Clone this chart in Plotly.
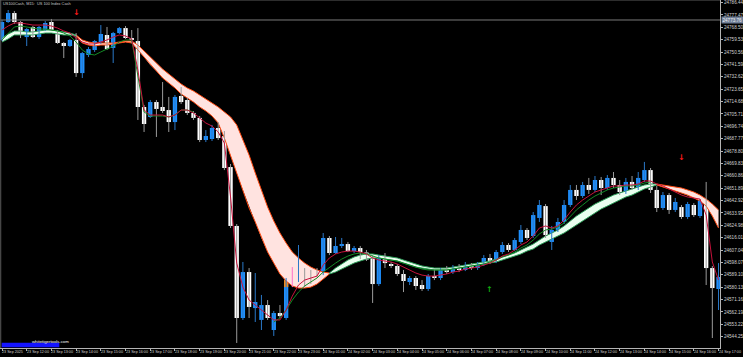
import plotly.graph_objects as go
import pandas as pd

# ---------------- data ----------------
bar_times = ([t.strftime("%Y-%m-%d %H:%M") for t in pd.date_range("2025-09-23 11:00", "2025-09-23 23:45", freq="15min")]
             + [t.strftime("%Y-%m-%d %H:%M") for t in pd.date_range("2025-09-24 01:00", "2025-09-24 17:00", freq="15min")])

opens = [24759.3, 24772.3, 24778.8, 24772.3, 24761.4, 24768.7, 24761.4, 24766.5, 24772.3, 24765.1,
         24757.1, 24754.9, 24759.3, 24735.3, 24748.4, 24752.0, 24757.8, 24762.9, 24753.5, 24764.3,
         24767.9, 24760.7, 24758.5, 24710.7, 24703.5, 24714.3, 24710.7, 24708.5, 24699.8, 24718.7,
         24715.8, 24706.4, 24702.8, 24686.8, 24687.5, 24695.5, 24689.7, 24667.2, 24624.5, 24557.8,
         24591.1, 24565.0, 24556.4, 24567.2, 24549.1, 24561.4, 24557.8, 24583.9, 24585.3, 24590.4,
         24589.7, 24590.4, 24591.8, 24615.8, 24604.9, 24610.0, 24611.4, 24606.3, 24608.5, 24604.9,
         24602.0, 24582.4, 24601.3, 24596.9, 24595.5, 24589.7, 24583.9, 24586.8, 24581.7, 24578.8,
         24588.2, 24586.8, 24592.6, 24591.1, 24594.0, 24592.6, 24596.2, 24594.0, 24596.2, 24601.3,
         24598.4, 24605.6, 24610.7, 24607.1, 24612.9, 24621.6, 24617.2, 24630.3, 24638.9, 24612.9,
         24621.6, 24627.4, 24639.7, 24650.6, 24646.2, 24654.2, 24650.6, 24657.8, 24652.0, 24659.3,
         24654.2, 24649.1, 24656.4, 24652.0, 24657.8, 24665.0, 24650.6, 24637.5, 24646.9, 24636.1,
         24638.2, 24631.0, 24639.7, 24631.7, 24643.3, 24594.0, 24578.8]
highs = [24773.8, 24781.0, 24780.3, 24773.0, 24767.9, 24769.4, 24769.4, 24773.0, 24774.5, 24766.5,
         24757.8, 24760.0, 24764.3, 24750.6, 24754.2, 24759.3, 24770.1, 24768.7, 24765.1, 24768.7,
         24769.4, 24766.5, 24767.9, 24712.2, 24715.8, 24715.8, 24728.8, 24718.0, 24719.4, 24725.2,
         24717.3, 24707.8, 24704.2, 24694.0, 24697.7, 24699.8, 24693.3, 24669.4, 24625.9, 24598.4,
         24594.0, 24590.4, 24574.5, 24570.8, 24562.9, 24567.2, 24586.8, 24594.7, 24610.7, 24594.0,
         24592.6, 24594.0, 24619.4, 24617.2, 24616.5, 24615.8, 24612.9, 24610.0, 24610.0, 24607.1,
         24603.4, 24603.4, 24604.9, 24598.4, 24596.9, 24592.6, 24588.2, 24588.2, 24585.3, 24589.7,
         24592.6, 24594.0, 24595.5, 24596.2, 24596.9, 24598.4, 24597.6, 24598.4, 24603.4, 24604.2,
         24607.1, 24612.9, 24612.1, 24615.8, 24625.2, 24623.0, 24634.6, 24643.3, 24640.4, 24624.5,
         24630.3, 24643.3, 24654.2, 24654.2, 24656.4, 24659.3, 24660.7, 24660.0, 24661.4, 24663.6,
         24657.8, 24659.3, 24660.7, 24663.6, 24670.9, 24666.5, 24653.5, 24649.1, 24648.4, 24644.8,
         24639.7, 24641.9, 24641.1, 24644.0, 24656.4, 24595.5, 24597.6]
lows = [24758.5, 24771.6, 24770.9, 24760.7, 24754.9, 24760.7, 24760.0, 24765.8, 24765.8, 24756.4,
        24746.2, 24754.2, 24732.5, 24731.7, 24746.9, 24750.6, 24756.4, 24752.0, 24742.6, 24763.6,
        24760.0, 24757.1, 24701.3, 24692.6, 24702.8, 24689.0, 24706.4, 24692.6, 24694.0, 24712.9,
        24704.9, 24701.3, 24685.3, 24685.3, 24686.1, 24686.8, 24665.0, 24623.0, 24539.7, 24556.4,
        24557.8, 24554.9, 24549.1, 24556.4, 24544.8, 24557.8, 24556.4, 24580.2, 24583.9, 24580.2,
        24582.4, 24587.5, 24588.9, 24603.4, 24604.2, 24608.5, 24605.6, 24604.9, 24600.5, 24599.1,
        24568.7, 24581.0, 24594.0, 24594.0, 24588.2, 24576.6, 24581.7, 24578.1, 24577.4, 24577.4,
        24585.3, 24585.3, 24589.7, 24589.7, 24591.1, 24591.8, 24592.6, 24592.6, 24595.5, 24596.9,
        24597.6, 24604.2, 24605.6, 24606.3, 24611.4, 24614.3, 24615.8, 24627.4, 24615.8, 24607.1,
        24620.1, 24625.9, 24638.2, 24643.3, 24644.8, 24647.7, 24649.1, 24646.9, 24650.6, 24652.0,
        24646.9, 24647.7, 24650.6, 24650.6, 24656.4, 24648.4, 24634.6, 24636.1, 24633.2, 24634.6,
        24629.5, 24629.5, 24631.0, 24630.3, 24581.7, 24543.3, 24563.6]
closes = [24772.3, 24778.8, 24772.3, 24762.9, 24767.2, 24761.4, 24768.7, 24771.6, 24766.5, 24757.1,
          24754.9, 24759.3, 24735.3, 24749.8, 24752.7, 24758.5, 24763.6, 24752.7, 24764.3, 24767.9,
          24760.7, 24759.3, 24710.7, 24698.4, 24714.3, 24709.3, 24707.8, 24699.8, 24718.0, 24714.3,
          24706.4, 24702.8, 24686.8, 24689.7, 24695.5, 24688.2, 24666.5, 24624.5, 24557.8, 24591.1,
          24565.8, 24569.4, 24567.2, 24557.8, 24561.4, 24559.2, 24585.3, 24583.1, 24590.4, 24583.9,
          24583.9, 24589.7, 24615.8, 24604.9, 24610.0, 24611.4, 24606.3, 24608.5, 24605.6, 24600.5,
          24582.4, 24602.0, 24597.6, 24595.5, 24589.7, 24584.6, 24586.8, 24581.0, 24578.8, 24588.2,
          24586.8, 24592.6, 24591.1, 24594.0, 24592.6, 24596.2, 24594.0, 24596.9, 24601.3, 24598.4,
          24605.6, 24610.7, 24607.1, 24614.3, 24621.6, 24615.8, 24632.4, 24639.7, 24617.9, 24621.6,
          24627.4, 24639.7, 24650.6, 24646.2, 24654.2, 24650.6, 24657.8, 24652.0, 24659.3, 24654.2,
          24649.1, 24656.4, 24652.0, 24659.3, 24665.0, 24650.6, 24637.5, 24646.9, 24636.1, 24641.9,
          24631.0, 24640.4, 24632.4, 24642.6, 24594.0, 24579.5, 24587.5]

# fast line (crimson)
ma_fast = [24766.5, 24769.4, 24771.6, 24771.6, 24770.9, 24770.1, 24770.1, 24770.1, 24769.4, 24767.9,
           24765.8, 24764.3, 24760.7, 24757.8, 24756.4, 24756.4, 24757.8, 24759.3, 24761.4, 24762.9,
           24762.2, 24760.0, 24737.5, 24708.5, 24704.9, 24704.9, 24704.9, 24703.5, 24704.9, 24708.5,
           24708.5, 24706.4, 24702.8, 24699.1, 24696.9, 24692.6, 24684.6, 24645.5, 24597.6, 24580.2,
           24570.8, 24567.2, 24563.6, 24560.0, 24556.4, 24556.4, 24563.6, 24573.7, 24581.7, 24585.3,
           24586.8, 24588.2, 24596.2, 24601.3, 24604.2, 24605.6, 24606.3, 24606.3, 24605.6, 24604.2,
           24601.3, 24599.8, 24599.1, 24598.4, 24596.9, 24594.7, 24592.6, 24590.4, 24588.9, 24588.2,
           24588.2, 24588.9, 24589.7, 24591.1, 24591.8, 24593.3, 24594.0, 24594.7, 24596.2, 24597.6,
           24599.8, 24602.7, 24604.2, 24607.1, 24610.7, 24612.9, 24617.2, 24623.0, 24624.5, 24623.0,
           24624.5, 24628.8, 24634.6, 24639.7, 24643.3, 24646.2, 24649.1, 24650.6, 24652.0, 24653.5,
           24653.5, 24654.2, 24654.2, 24654.9, 24657.1, 24657.1, 24654.9, 24653.5, 24651.3, 24649.1,
           24646.9, 24645.5, 24644.8, 24644.0, 24632.4, 24598.4, 24585.3]
# medium line (dark green), None where not drawn
ma_mid = [24759.3, 24764.3, 24768.7, 24769.4, 24768.7, 24767.9, 24767.2, 24767.2, 24766.5, 24765.8,
          24764.3, 24762.2, 24757.8, 24752.0, 24749.1, 24748.4, 24750.6, 24752.7, 24754.9, 24757.8,
          24759.3, 24759.3, 24733.9, 24707.1, 24704.2, 24704.2, 24704.2, 24703.5, 24704.9, 24708.5,
          24708.5, 24707.1, None, None, None, None, None, None, None, None,
          None, None, None, None, 24554.9, 24557.8, 24563.6, 24570.8, 24576.6, 24581.0,
          24583.9, 24586.8, 24591.1, 24594.7, 24597.6, 24600.5, 24602.7, 24604.2, 24604.9, 24604.2,
          24602.7, 24601.3, 24600.5, 24599.8, 24599.1, 24597.6, 24596.2, 24594.7, 24593.3, 24592.6,
          24592.6, 24592.6, 24592.6, 24593.3, 24594.0, 24594.7, 24595.5, 24596.2, 24596.9, 24598.4,
          24599.8, 24602.0, 24603.4, 24605.6, 24608.5, 24610.7, 24614.3, 24618.7, 24621.6, 24622.3,
          24623.7, 24626.6, 24631.7, 24636.1, 24639.7, 24643.3, 24646.2, 24648.4, 24650.6, 24652.0,
          24652.7, 24653.5, 24653.5, 24654.2, 24655.6, 24656.4, None, None, None, None,
          None, None, None, None, None, None, None]
# cloud edges
cloud_a = [24760.7, 24763.6, 24765.8, 24765.8, 24765.1, 24765.1, 24765.8, 24766.5, 24766.5, 24765.8,
           24765.1, 24764.3, 24762.9, 24759.3, 24757.8, 24757.1, 24757.1, 24757.1, 24757.1, 24757.8,
           24758.5, 24758.5, 24755.6, 24751.3, 24746.9, 24742.6, 24738.2, 24734.6, 24731.0, 24727.4,
           24724.5, 24722.3, 24719.4, 24716.5, 24713.6, 24710.7, 24707.1, 24703.5, 24697.7, 24686.8,
           24675.9, 24662.9, 24650.6, 24638.2, 24628.1, 24619.4, 24612.1, 24605.6, 24601.3, 24597.6,
           24594.7, 24592.6, 24591.1, 24590.4, 24594.0, 24596.9, 24599.8, 24602.0, 24603.4, 24604.2,
           24604.2, 24603.4, 24602.7, 24602.0, 24601.3, 24599.8, 24598.4, 24596.9, 24595.5, 24594.7,
           24594.0, 24594.0, 24594.0, 24594.7, 24595.5, 24596.2, 24596.9, 24597.6, 24598.4, 24599.1,
           24600.5, 24602.0, 24603.4, 24604.9, 24607.1, 24609.2, 24611.4, 24614.3, 24617.2, 24619.4,
           24621.6, 24624.5, 24628.1, 24631.7, 24634.6, 24637.5, 24640.4, 24642.6, 24644.8, 24646.9,
           24648.4, 24649.8, 24651.3, 24652.7, 24654.2, 24654.9, 24654.9, 24654.2, 24653.5, 24652.7,
           24652.0, 24650.6, 24649.1, 24646.9, 24644.0, 24640.4, 24636.1]
cloud_b = [24757.8, 24760.0, 24762.9, 24762.9, 24762.9, 24762.9, 24763.6, 24764.3, 24764.3, 24763.6,
           24762.9, 24762.9, 24762.2, 24757.1, 24755.6, 24754.9, 24755.6, 24755.6, 24756.4, 24757.1,
           24757.8, 24757.1, 24752.0, 24746.9, 24741.1, 24736.8, 24731.7, 24728.1, 24724.5, 24720.1,
           24717.3, 24714.3, 24710.7, 24707.8, 24704.2, 24699.1, 24688.2, 24675.9, 24662.9, 24650.6,
           24637.5, 24627.4, 24615.8, 24605.6, 24597.6, 24589.7, 24584.6, 24581.0, 24579.5, 24579.5,
           24580.2, 24582.4, 24586.0, 24589.7, 24591.1, 24593.3, 24595.5, 24597.6, 24599.1, 24600.5,
           24601.3, 24601.3, 24600.5, 24599.8, 24599.1, 24597.6, 24596.2, 24594.7, 24594.0, 24593.3,
           24592.6, 24592.6, 24592.6, 24593.3, 24594.0, 24594.7, 24595.5, 24596.2, 24596.9, 24597.6,
           24598.4, 24599.8, 24601.3, 24602.7, 24604.2, 24606.3, 24607.8, 24610.7, 24612.9, 24615.0,
           24617.2, 24619.4, 24622.3, 24625.2, 24628.1, 24631.0, 24633.9, 24636.8, 24638.9, 24641.1,
           24643.3, 24645.5, 24646.9, 24649.1, 24651.3, 24652.7, 24654.2, 24652.7, 24651.3, 24649.8,
           24648.4, 24646.9, 24644.8, 24642.6, 24638.9, 24631.7, 24623.0]
cloud_regimes = [(0, 12, "bull"), (12, 53, "bear"), (53, 106, "bull"), (106, 116, "bear")]

# highlighted candle bodies
orange_idx = [4, 6, 15, 46, 48, 50]
orange_top = [24765.1, 24765.8, 24757.1, 24585.3, 24590.4, 24589.7]
orange_bot = [24763.6, 24763.6, 24754.9, 24580.2, 24585.3, 24583.9]
pink_idx = [47]
hollow_idx = [49, 59]

# signal arrows
arrow_down_idx = [12, 110]
arrow_down_price = [24779.0, 24673.8]
arrow_up_idx = [79]
arrow_up_price = [24578.1]

hline_price = 24773.76

y_tick_vals = [24786.44, 24777.47, 24768.50, 24759.53, 24750.56, 24741.59, 24732.62, 24723.65,
               24714.68, 24705.71, 24696.74, 24687.77, 24678.80, 24669.83, 24660.86, 24651.89,
               24642.92, 24633.95, 24624.98, 24616.01, 24607.04, 24598.07, 24589.10, 24580.13,
               24571.16, 24562.19, 24553.22, 24544.25]
x_tick_times = ["2025-09-23 11:00", "2025-09-23 12:00", "2025-09-23 13:00", "2025-09-23 14:00",
                "2025-09-23 15:00", "2025-09-23 16:00", "2025-09-23 17:00", "2025-09-23 18:00",
                "2025-09-23 19:00", "2025-09-23 20:00", "2025-09-23 21:00", "2025-09-23 22:00",
                "2025-09-23 23:00", "2025-09-24 01:00", "2025-09-24 02:00", "2025-09-24 03:00",
                "2025-09-24 04:00", "2025-09-24 05:00", "2025-09-24 06:00", "2025-09-24 07:00",
                "2025-09-24 08:00", "2025-09-24 09:00", "2025-09-24 10:00", "2025-09-24 11:00",
                "2025-09-24 12:00", "2025-09-24 13:00", "2025-09-24 14:00", "2025-09-24 15:00",
                "2025-09-24 16:00", "2025-09-24 17:00"]
x_tick_text = ["23 Sep 2025", "23 Sep 12:00", "23 Sep 13:00", "23 Sep 14:00", "23 Sep 15:00",
               "23 Sep 16:00", "23 Sep 17:00", "23 Sep 18:00", "23 Sep 19:00", "23 Sep 20:00",
               "23 Sep 21:00", "23 Sep 22:00", "23 Sep 23:00", "24 Sep 01:00", "24 Sep 02:00",
               "24 Sep 03:00", "24 Sep 04:00", "24 Sep 05:00", "24 Sep 06:00", "24 Sep 07:00",
               "24 Sep 08:00", "24 Sep 09:00", "24 Sep 10:00", "24 Sep 11:00", "24 Sep 12:00",
               "24 Sep 13:00", "24 Sep 14:00", "24 Sep 15:00", "24 Sep 16:00", "24 Sep 17:00"]

# ---------------- styles ----------------
BULL = "#1e90ff"
BULL_WICK = "#2a78c8"
BEAR = "#ffffff"
BEAR_WICK = "#9a9a9a"
AX = "#b4b4b4"
TXT = "#d2d2d2"
FONT = "Liberation Sans"

fig = go.Figure()

# cloud
for s, e, kind in cloud_regimes:
    xs = bar_times[s:e + 1]
    ua = cloud_a[s:e + 1]
    lb = cloud_b[s:e + 1]
    fill = "#ffe3e0" if kind == "bear" else "#eafff0"
    edge = "#ff4a12" if kind == "bear" else "#2e9e5a"
    fig.add_trace(go.Scatter(x=xs + xs[::-1], y=ua + lb[::-1], fill="toself", fillcolor=fill,
                             mode="lines", line=dict(width=0), hoverinfo="skip"))
    fig.add_trace(go.Scatter(x=xs, y=ua, mode="lines", line=dict(color=edge, width=1), hoverinfo="skip"))
    fig.add_trace(go.Scatter(x=xs, y=lb, mode="lines", line=dict(color=edge, width=1), hoverinfo="skip"))

# wicks
for bull in (True, False):
    wx, wy = [], []
    for i, t in enumerate(bar_times):
        if (closes[i] >= opens[i]) == bull and i not in pink_idx:
            wx += [t, t, None]
            wy += [lows[i], highs[i], None]
    fig.add_trace(go.Scatter(x=wx, y=wy, mode="lines",
                             line=dict(color=BULL_WICK if bull else BEAR_WICK, width=1), hoverinfo="skip"))

# bodies
b_base, b_h, b_col, b_lc, b_lw = [], [], [], [], []
for i in range(len(bar_times)):
    lo, hi = min(opens[i], closes[i]), max(opens[i], closes[i])
    b_base.append(lo)
    b_h.append(max(hi - lo, 0.5))
    if i in hollow_idx:
        b_col.append("#000000"); b_lc.append("#ffffff"); b_lw.append(1)
    elif i in pink_idx:
        b_col.append("#ff70c8"); b_lc.append("#ff70c8"); b_lw.append(0)
    else:
        c = BULL if closes[i] >= opens[i] else BEAR
        b_col.append(c); b_lc.append(c); b_lw.append(0)
fig.add_trace(go.Bar(x=bar_times, y=b_h, base=b_base, width=0.7,
                     marker=dict(color=b_col, line=dict(color=b_lc, width=b_lw)), hoverinfo="skip"))

# pink wick
for i in pink_idx:
    fig.add_trace(go.Scatter(x=[bar_times[i], bar_times[i]], y=[lows[i], highs[i]], mode="lines",
                             line=dict(color="#ff70c8", width=1), hoverinfo="skip"))

# orange highlighted bodies
fig.add_trace(go.Bar(x=[bar_times[i] for i in orange_idx],
                     y=[t - b for t, b in zip(orange_top, orange_bot)], base=orange_bot, width=0.7,
                     marker=dict(color="#f08a1c", line=dict(width=0)), hoverinfo="skip"))

# lines
fig.add_trace(go.Scatter(x=bar_times, y=ma_mid, mode="lines", line=dict(color="#138a26", width=1),
                         connectgaps=False, hoverinfo="skip"))
fig.add_trace(go.Scatter(x=bar_times, y=ma_fast, mode="lines", line=dict(color="#c8123c", width=1),
                         hoverinfo="skip"))

annotations = []
for i, p in zip(arrow_down_idx, arrow_down_price):
    annotations.append(dict(x=bar_times[i], y=p, text="<b>↓</b>", showarrow=False,
                            font=dict(color="#ff1a1a", size=8, family="DejaVu Sans")))
for i, p in zip(arrow_up_idx, arrow_up_price):
    annotations.append(dict(x=bar_times[i], y=p, text="<b>↑</b>", showarrow=False,
                            font=dict(color="#10b010", size=8, family="DejaVu Sans")))

for t, s in zip(x_tick_times, x_tick_text):
    annotations.append(dict(x=t, y=0, xref="x", yref="paper", yanchor="top", xanchor="left",
                            yshift=-1, xshift=-1, text=s, showarrow=False, borderpad=0,
                            font=dict(color=TXT, size=3.7, family=FONT)))

annotations.append(dict(x=1, xref="paper", xanchor="left", xshift=1, y=hline_price, yref="y",
                        text="%.2f" % hline_price, showarrow=False, bgcolor="#6f7f98", borderpad=0.5,
                        font=dict(color="#f0f0f0", size=4.6, family=FONT)))
annotations.append(dict(x=0, xref="paper", xanchor="left", xshift=2, y=1, yref="paper", yanchor="top",
                        yshift=0, text="US100Cash, M15:  US 100 Index Cash", showarrow=False, borderpad=0,
                        font=dict(color="#c8c8c8", size=3.9, family=FONT)))
annotations.append(dict(x=30.5 / 720, xref="paper", y=3 / 348, yref="paper", text="whitetigertools.com",
                        showarrow=False, borderpad=0, font=dict(color="#ffffff", size=4.3, family=FONT)))

shapes = [
    dict(type="rect", xref="paper", yref="paper", x0=1.7 / 720, x1=59.3 / 720, y0=0.7 / 348, y1=5.3 / 348,
         fillcolor="#1414ff", line=dict(width=0), layer="above"),
    dict(type="line", xref="paper", yref="y", x0=0, x1=1, y0=hline_price, y1=hline_price,
         line=dict(color="#7a7a7a", width=1)),
    dict(type="line", xref="paper", yref="paper", x0=0, x1=1, y0=1, y1=1, line=dict(color="#5a5a5a", width=1)),
    dict(type="line", xref="paper", yref="paper", x0=0.001, x1=0.001, y0=0, y1=1, line=dict(color="#5a5a5a", width=1)),
]

fig.update_layout(
    width=743, height=357, margin=dict(l=0, r=23, t=0, b=9),
    paper_bgcolor="#000000", plot_bgcolor="#000000", showlegend=False, barmode="overlay",
    annotations=annotations, shapes=shapes,
    xaxis=dict(type="category", range=[-0.324, 116.24], tickvals=x_tick_times, showticklabels=False,
               ticks="outside", ticklen=2, tickcolor=AX, showline=True, linecolor=AX, linewidth=1,
               showgrid=False, zeroline=False, fixedrange=True),
    yaxis=dict(side="right", range=[24536.06, 24788.25], tickvals=y_tick_vals,
               ticktext=["%.2f" % v for v in y_tick_vals], ticks="outside", ticklen=2, tickcolor=AX,
               showline=True, linecolor=AX, linewidth=1, showgrid=False, zeroline=False,
               tickfont=dict(color=TXT, size=4.6, family=FONT), fixedrange=True),
)

fig.write_html("out.html")
